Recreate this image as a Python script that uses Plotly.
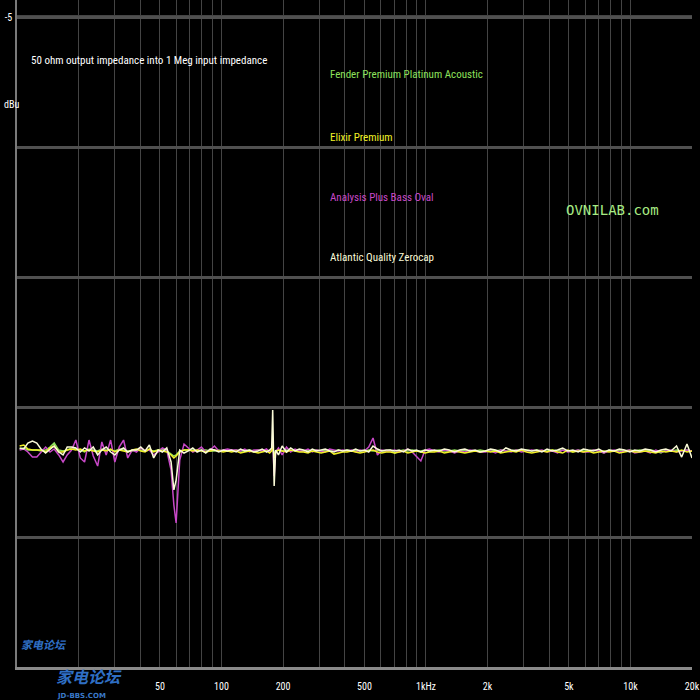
"""
    Cable frequency response plot (50 ohm out into 1 Meg in)
"""

import plotly.graph_objs as go

FONT = "Roboto Condensed, Open Sans Condensed, Roboto, sans-serif"

# Measurement frequencies (Hz)
FREQS = [
    10.3, 10.8, 11.3, 11.9, 12.5, 13.1, 13.8, 14.5, 15.2, 16.0,
    16.8, 17.6, 18.5, 19.4, 20.4, 21.4, 22.5, 23.6, 24.8, 26.0,
    27.3, 28.7, 30.1, 31.6, 33.2, 34.8, 36.6, 38.4, 40.3, 42.3,
    44.4, 46.6, 49.0, 51.4, 54.0, 56.7, 58.5, 60.0, 62.5, 65.6,
    68.9, 72.4, 76.0, 79.8, 83.8, 88.0, 92.4, 97.0, 102, 107,
    112, 118, 124, 130, 137, 144, 151, 158, 166, 172,
    176, 178, 181, 184, 190, 198, 208, 218, 229, 240,
    252, 265, 278, 292, 307, 322, 338, 355, 373, 392,
    411, 432, 453, 476, 500, 525, 551, 579, 608, 638,
    670, 704, 739, 776, 815, 856, 899, 944, 991, 1040,
    1100, 1160, 1230, 1300, 1380, 1460, 1550, 1640, 1740, 1840,
    1950, 2070, 2190, 2320, 2460, 2610, 2760, 2930, 3100, 3290,
    3480, 3690, 3910, 4150, 4400, 4660, 4940, 5230, 5550, 5880,
    6230, 6600, 7000, 7420, 7860, 8330, 8830, 9360, 9920, 10500,
    11100, 11800, 12500, 13300, 14100, 14900, 15800, 16800, 17800, 18900,
    20000,
]

# Levels (dBu) per cable
FENDER = [
    -8.323, -8.315, -8.331, -8.331, -8.331, -8.338, -8.331, -8.308, -8.277, -8.331,
    -8.338, -8.331, -8.315, -8.323, -8.331, -8.346, -8.323, -8.331, -8.338, -8.323,
    -8.331, -8.331, -8.338, -8.323, -8.331, -8.338, -8.338, -8.331, -8.331, -8.338,
    -8.331, -8.338, -8.331, -8.323, -8.338, -8.362, -8.377, -8.369, -8.338, -8.331,
    -8.331, -8.331, -8.338, -8.331, -8.331, -8.338, -8.338, -8.331, -8.338, -8.331,
    -8.338, -8.331, -8.338, -8.338, -8.331, -8.338, -8.331, -8.338, -8.338, -8.331,
    -8.331, -8.308, -8.369, -8.338, -8.331, -8.338, -8.331, -8.338, -8.331, -8.338,
    -8.338, -8.331, -8.338, -8.331, -8.338, -8.331, -8.338, -8.338, -8.331, -8.338,
    -8.331, -8.338, -8.331, -8.338, -8.338, -8.331, -8.338, -8.331, -8.338, -8.338,
    -8.331, -8.354, -8.338, -8.331, -8.338, -8.331, -8.338, -8.338, -8.331, -8.338,
    -8.338, -8.331, -8.338, -8.338, -8.331, -8.338, -8.331, -8.338, -8.338, -8.331,
    -8.338, -8.331, -8.338, -8.331, -8.338, -8.338, -8.331, -8.338, -8.331, -8.338,
    -8.331, -8.338, -8.338, -8.331, -8.338, -8.331, -8.338, -8.346, -8.331, -8.338,
    -8.338, -8.331, -8.338, -8.354, -8.331, -8.338, -8.331, -8.338, -8.331, -8.338,
    -8.331, -8.338, -8.331, -8.338, -8.354, -8.331, -8.338, -8.331, -8.338, -8.331,
    -8.338,
]

ANALYSIS = [
    -8.331, -8.323, -8.346, -8.385, -8.385, -8.346, -8.308, -8.346, -8.323, -8.369,
    -8.423, -8.369, -8.331, -8.254, -8.392, -8.423, -8.254, -8.377, -8.454, -8.269,
    -8.369, -8.254, -8.423, -8.308, -8.254, -8.392, -8.331, -8.346, -8.315, -8.338,
    -8.331, -8.369, -8.346, -8.315, -8.331, -8.485, -8.754, -8.892, -8.408, -8.285,
    -8.315, -8.346, -8.331, -8.308, -8.346, -8.331, -8.300, -8.338, -8.331, -8.323,
    -8.331, -8.331, -8.338, -8.323, -8.346, -8.331, -8.331, -8.338, -8.323, -8.346,
    -8.331, -8.254, -8.531, -8.346, -8.315, -8.369, -8.308, -8.346, -8.323, -8.338,
    -8.338, -8.323, -8.346, -8.331, -8.338, -8.346, -8.323, -8.331, -8.338, -8.331,
    -8.338, -8.331, -8.346, -8.331, -8.338, -8.308, -8.238, -8.369, -8.331, -8.338,
    -8.338, -8.331, -8.346, -8.338, -8.323, -8.346, -8.377, -8.415, -8.331, -8.323,
    -8.338, -8.346, -8.331, -8.338, -8.354, -8.338, -8.346, -8.331, -8.338, -8.346,
    -8.346, -8.338, -8.354, -8.331, -8.338, -8.346, -8.331, -8.346, -8.338, -8.331,
    -8.338, -8.331, -8.346, -8.338, -8.354, -8.331, -8.346, -8.338, -8.331, -8.346,
    -8.346, -8.331, -8.338, -8.354, -8.338, -8.331, -8.346, -8.338, -8.331, -8.354,
    -8.346, -8.338, -8.354, -8.331, -8.346, -8.338, -8.331, -8.346, -8.338, -8.331,
    -8.338,
]

ELIXIR = [
    -8.300, -8.292, -8.323, -8.331, -8.331, -8.331, -8.346, -8.315, -8.300, -8.346,
    -8.346, -8.331, -8.323, -8.331, -8.323, -8.338, -8.331, -8.338, -8.346, -8.331,
    -8.338, -8.323, -8.346, -8.331, -8.338, -8.346, -8.331, -8.323, -8.338, -8.346,
    -8.323, -8.346, -8.331, -8.338, -8.346, -8.369, -8.392, -8.377, -8.346, -8.331,
    -8.331, -8.338, -8.331, -8.338, -8.346, -8.338, -8.331, -8.338, -8.346, -8.338,
    -8.346, -8.338, -8.354, -8.346, -8.338, -8.346, -8.354, -8.346, -8.338, -8.354,
    -8.338, -8.292, -8.392, -8.346, -8.331, -8.338, -8.346, -8.331, -8.338, -8.346,
    -8.346, -8.354, -8.338, -8.346, -8.354, -8.346, -8.338, -8.362, -8.354, -8.346,
    -8.346, -8.338, -8.346, -8.354, -8.346, -8.338, -8.331, -8.346, -8.354, -8.346,
    -8.346, -8.354, -8.346, -8.338, -8.354, -8.346, -8.338, -8.346, -8.354, -8.346,
    -8.346, -8.338, -8.354, -8.346, -8.338, -8.346, -8.354, -8.346, -8.338, -8.346,
    -8.338, -8.346, -8.338, -8.354, -8.346, -8.338, -8.346, -8.331, -8.346, -8.354,
    -8.346, -8.338, -8.346, -8.331, -8.346, -8.354, -8.331, -8.346, -8.338, -8.346,
    -8.338, -8.354, -8.346, -8.338, -8.346, -8.338, -8.354, -8.346, -8.338, -8.346,
    -8.346, -8.338, -8.346, -8.354, -8.338, -8.346, -8.338, -8.346, -8.331, -8.346,
    -8.338,
]

ZEROCAP = [
    -8.315, -8.323, -8.277, -8.262, -8.277, -8.323, -8.354, -8.323, -8.300, -8.346,
    -8.369, -8.308, -8.308, -8.315, -8.346, -8.315, -8.338, -8.308, -8.369, -8.331,
    -8.308, -8.346, -8.369, -8.331, -8.315, -8.346, -8.331, -8.331, -8.308, -8.338,
    -8.292, -8.392, -8.331, -8.346, -8.315, -8.423, -8.638, -8.562, -8.331, -8.354,
    -8.338, -8.315, -8.346, -8.331, -8.354, -8.323, -8.331, -8.346, -8.331, -8.338,
    -8.331, -8.346, -8.323, -8.338, -8.331, -8.346, -8.338, -8.323, -8.346, -8.331,
    -8.315, -8.023, -8.608, -8.331, -8.369, -8.300, -8.346, -8.315, -8.338, -8.323,
    -8.331, -8.346, -8.323, -8.338, -8.331, -8.323, -8.338, -8.346, -8.331, -8.338,
    -8.331, -8.338, -8.323, -8.338, -8.331, -8.346, -8.300, -8.323, -8.338, -8.331,
    -8.331, -8.338, -8.331, -8.346, -8.323, -8.338, -8.331, -8.346, -8.331, -8.338,
    -8.331, -8.338, -8.323, -8.331, -8.346, -8.331, -8.323, -8.338, -8.331, -8.346,
    -8.338, -8.323, -8.331, -8.346, -8.315, -8.331, -8.338, -8.323, -8.331, -8.338,
    -8.331, -8.346, -8.323, -8.338, -8.331, -8.315, -8.338, -8.331, -8.346, -8.323,
    -8.331, -8.338, -8.323, -8.346, -8.331, -8.338, -8.323, -8.331, -8.346, -8.331,
    -8.338, -8.323, -8.331, -8.346, -8.331, -8.323, -8.338, -8.300, -8.385, -8.285,
    -8.392,
]

# Axis ticks
TICK_VALS = [
    20, 30, 40, 50, 60, 70, 80, 90,
    100, 200, 300, 400, 500, 600, 700, 800, 900,
    1000, 2000, 3000, 4000, 5000, 6000, 7000, 8000, 9000,
    10000, 20000,
]
TICK_TEXT = [
    "", "", "", "50", "", "", "", "",
    "100", "200", "", "", "500", "", "", "", "",
    "1kHz", "2k", "", "", "5k", "", "", "", "",
    "10k", "20k",
]

SERIES = {
    "Fender Premium Platinum Acoustic": (FENDER, "#8ee05c"),
    "Analysis Plus Bass Oval": (ANALYSIS, "#c848c8"),
    "Elixir Premium": (ELIXIR, "#f2f226"),
    "Atlantic Quality Zerocap": (ZEROCAP, "#fbfbd8"),
}

# label order / position as drawn on the chart
LABELS = [
    ("Fender Premium Platinum Acoustic", 0.8876),
    ("Elixir Premium", 0.7946),
    ("Analysis Plus Bass Oval", 0.7046),
    ("Atlantic Quality Zerocap", 0.6132),
]

data = []
for name, (vals, color) in SERIES.items():
    data.append(
        go.Scatter(
            x=FREQS, y=vals, name=name, mode="lines",
            line={"color": color, "width": 1.5},
        )
    )


def note(text, x, y, size, color, family=FONT, xanchor="center"):
    return dict(
        text=text, x=x, y=y, xref="paper", yref="paper", showarrow=False,
        xanchor=xanchor, yanchor="middle",
        font={"family": family, "size": size, "color": color},
    )


annotations = [
    note("50 ohm output impedance into 1 Meg input impedance", 0.196, 0.910, 11, "white"),
    note("dBu", -0.022, 0.8426, 10, "white", xanchor="left"),
    note("OVNILAB.com", 0.8815, 0.6852, 14, "#a8ec84", family="DejaVu Sans Mono, monospace"),
    note("<i><b>家电论坛</b></i>", 0.107, -0.0135, 16, "#2f6fc4", family="Noto Sans CJK SC"),
    note("<b>JD-BBS.COM</b>", 0.095, -0.043, 7, "#3a78c8", family="DejaVu Sans"),
    note("<i><b>家电论坛</b></i>", 0.04, 0.035, 11, "#2f6fc4", family="Noto Sans CJK SC"),
]
for name, ypos in LABELS:
    annotations.append(note(name, 0.4607, ypos, 11, SERIES[name][1], xanchor="left"))

layout = go.Layout(
    width=700,
    height=700,
    paper_bgcolor="black",
    plot_bgcolor="black",
    showlegend=False,
    margin={"l": 17, "r": 8, "t": 0, "b": 33, "autoexpand": False},
    xaxis={
        "type": "log",
        "range": [1, 4.30103],
        "tickvals": TICK_VALS,
        "ticktext": TICK_TEXT,
        "showgrid": True,
        "gridcolor": "#444444",
        "gridwidth": 1,
        "showline": True,
        "linecolor": "#8a8a8a",
        "linewidth": 3,
        "ticks": "",
        "ticklabelstandoff": 8,
        "tickfont": {"family": FONT, "size": 10, "color": "white"},
        "zeroline": False,
        "automargin": False,
    },
    yaxis={
        "range": [-10, -4.869],
        "tickvals": [-10, -9, -8, -7, -6, -5],
        "ticktext": ["", "", "", "", "", "-5"],
        "showgrid": True,
        "gridcolor": "#505050",
        "gridwidth": 3,
        "showline": True,
        "linecolor": "#7a7a7a",
        "linewidth": 1.5,
        "ticks": "",
        "ticklabelstandoff": 1,
        "tickfont": {"family": FONT, "size": 10, "color": "white"},
        "zeroline": False,
        "automargin": False,
    },
    shapes=[
        dict(
            type="line", xref="paper", yref="y", x0=0, x1=1, y0=-5, y1=-5,
            line={"color": "#8a8a8a", "width": 3}, layer="below",
        )
    ],
    annotations=annotations,
)

fig = go.Figure(data=data, layout=layout)
fig.write_html(
    "out.html",
    config={"displayModeBar": False},
    post_script="document.body.style.margin='0';",
)
